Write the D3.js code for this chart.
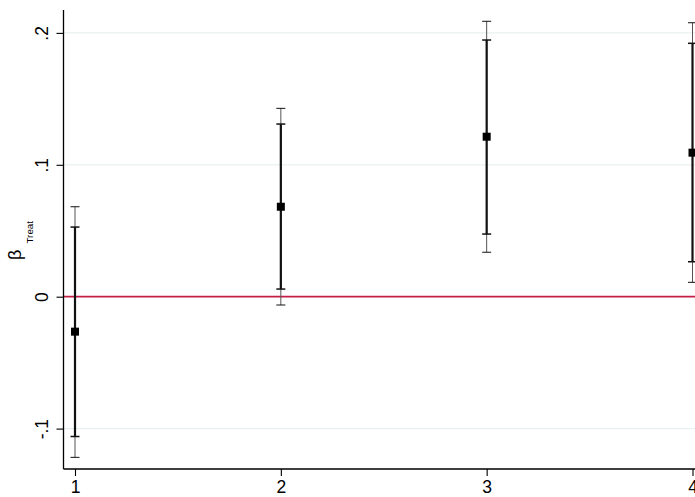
<!DOCTYPE html>
<html><head><meta charset="utf-8">
<script src="https://cdn.jsdelivr.net/npm/d3@7"></script>
<style>body{margin:0;background:#fff}svg{display:block}text{font-family:"Liberation Sans",Arial,sans-serif}</style>
</head><body><svg id="c" width="695" height="497"></svg>
<script>
const periods = [1, 2, 3, 4];
const coef = [-0.0265, 0.0682, 0.1213, 0.1092];
const ciInnerLo = [-0.106, 0.0058, 0.0475, 0.0265];
const ciInnerHi = [0.0528, 0.1309, 0.1946, 0.1921];
const ciOuterLo = [-0.1218, -0.0063, 0.0337, 0.0109];
const ciOuterHi = [0.0682, 0.1428, 0.2088, 0.2077];
const yTicks = [-0.1, 0, 0.1, 0.2];
const yTickLabels = ["-.1", "0", ".1", ".2"];
const xTicks = [1, 2, 3, 4];
const yLabelMain = "β", yLabelSub = "Treat";

const svg = d3.select("#c");
const x = d3.scaleLinear().domain([1, 4]).range([75, 692.5]);
const y = d3.scaleLinear().domain([0, 0.1]).range([296.7, 164.8]);
const axX = 63.5, axY = 469, topY = 10;
const FONT = '"Liberation Sans",Arial,sans-serif';

// gridlines
svg.append("g").selectAll("line").data(yTicks.filter(d => d !== 0)).join("line")
  .attr("x1", axX).attr("x2", 695).attr("y1", d => y(d)).attr("y2", d => y(d))
  .attr("stroke", "#e9f0f1").attr("stroke-width", 1.2);

// zero line
svg.append("line").attr("x1", axX).attr("x2", 695).attr("y1", y(0)).attr("y2", y(0))
  .attr("stroke", "#c41e47").attr("stroke-width", 1.8);

// axes
const yAxis = d3.axisLeft(y).tickValues(yTicks).tickSize(7).tickFormat((d, i) => yTickLabels[i]);
const gy = svg.append("g").attr("transform", `translate(${axX},0)`).call(yAxis);
gy.select(".domain").remove();
gy.append("line").attr("x1", 0).attr("x2", 0).attr("y1", topY).attr("y2", axY).attr("stroke", "#000").attr("stroke-width", 1.3);
gy.selectAll(".tick line").attr("stroke", "#000").attr("stroke-width", 1.1);
gy.selectAll(".tick text").attr("x", null).attr("dy", null)
  .attr("transform", "translate(-15.5,0) rotate(-90)").attr("text-anchor", "middle")
  .attr("font-size", 17.5).attr("fill", "#000").attr("font-family", FONT);

const xAxis = d3.axisBottom(x).tickValues(xTicks).tickSize(7).tickFormat(d3.format("d"));
const gx = svg.append("g").attr("transform", `translate(0,${axY})`).call(xAxis);
gx.select(".domain").remove();
gx.append("line").attr("x1", axX).attr("x2", 695).attr("y1", 0).attr("y2", 0).attr("stroke", "#000").attr("stroke-width", 1.3);
gx.selectAll(".tick line").attr("stroke", "#000").attr("stroke-width", 1.1);
gx.selectAll(".tick text").attr("y", 12).attr("dy", "0.71em")
  .attr("font-size", 17.5).attr("fill", "#000").attr("font-family", FONT);

// y label
const lab = svg.append("g").attr("transform", "rotate(-90)");
lab.append("text").attr("x", -260).attr("y", 21).attr("font-size", 18).attr("fill", "#000").text(yLabelMain);
lab.append("text").attr("x", -243.5).attr("y", 33.3).attr("font-size", 9.8).attr("fill", "#000").text(yLabelSub);

// error bars
const data = periods.map((p, i) => ({p, c: coef[i], il: ciInnerLo[i], ih: ciInnerHi[i], ol: ciOuterLo[i], oh: ciOuterHi[i]}));
const capW = 4.5;
const g = svg.append("g");
data.forEach(d => {
  const cx = x(d.p);
  g.append("line").attr("x1", cx).attr("x2", cx).attr("y1", y(d.oh)).attr("y2", y(d.ol)).attr("stroke", "#555").attr("stroke-width", 1);
  [d.oh, d.ol].forEach(v => g.append("line").attr("x1", cx - capW).attr("x2", cx + capW).attr("y1", y(v)).attr("y2", y(v)).attr("stroke", "#111").attr("stroke-width", 1));
  g.append("line").attr("x1", cx).attr("x2", cx).attr("y1", y(d.ih)).attr("y2", y(d.il)).attr("stroke", "#111").attr("stroke-width", 2.2);
  [d.ih, d.il].forEach(v => g.append("line").attr("x1", cx - capW).attr("x2", cx + capW).attr("y1", y(v)).attr("y2", y(v)).attr("stroke", "#111").attr("stroke-width", 1.5));
  g.append("rect").attr("x", cx - 4).attr("y", y(d.c) - 4).attr("width", 8).attr("height", 8).attr("fill", "#000");
});
</script></body></html>
